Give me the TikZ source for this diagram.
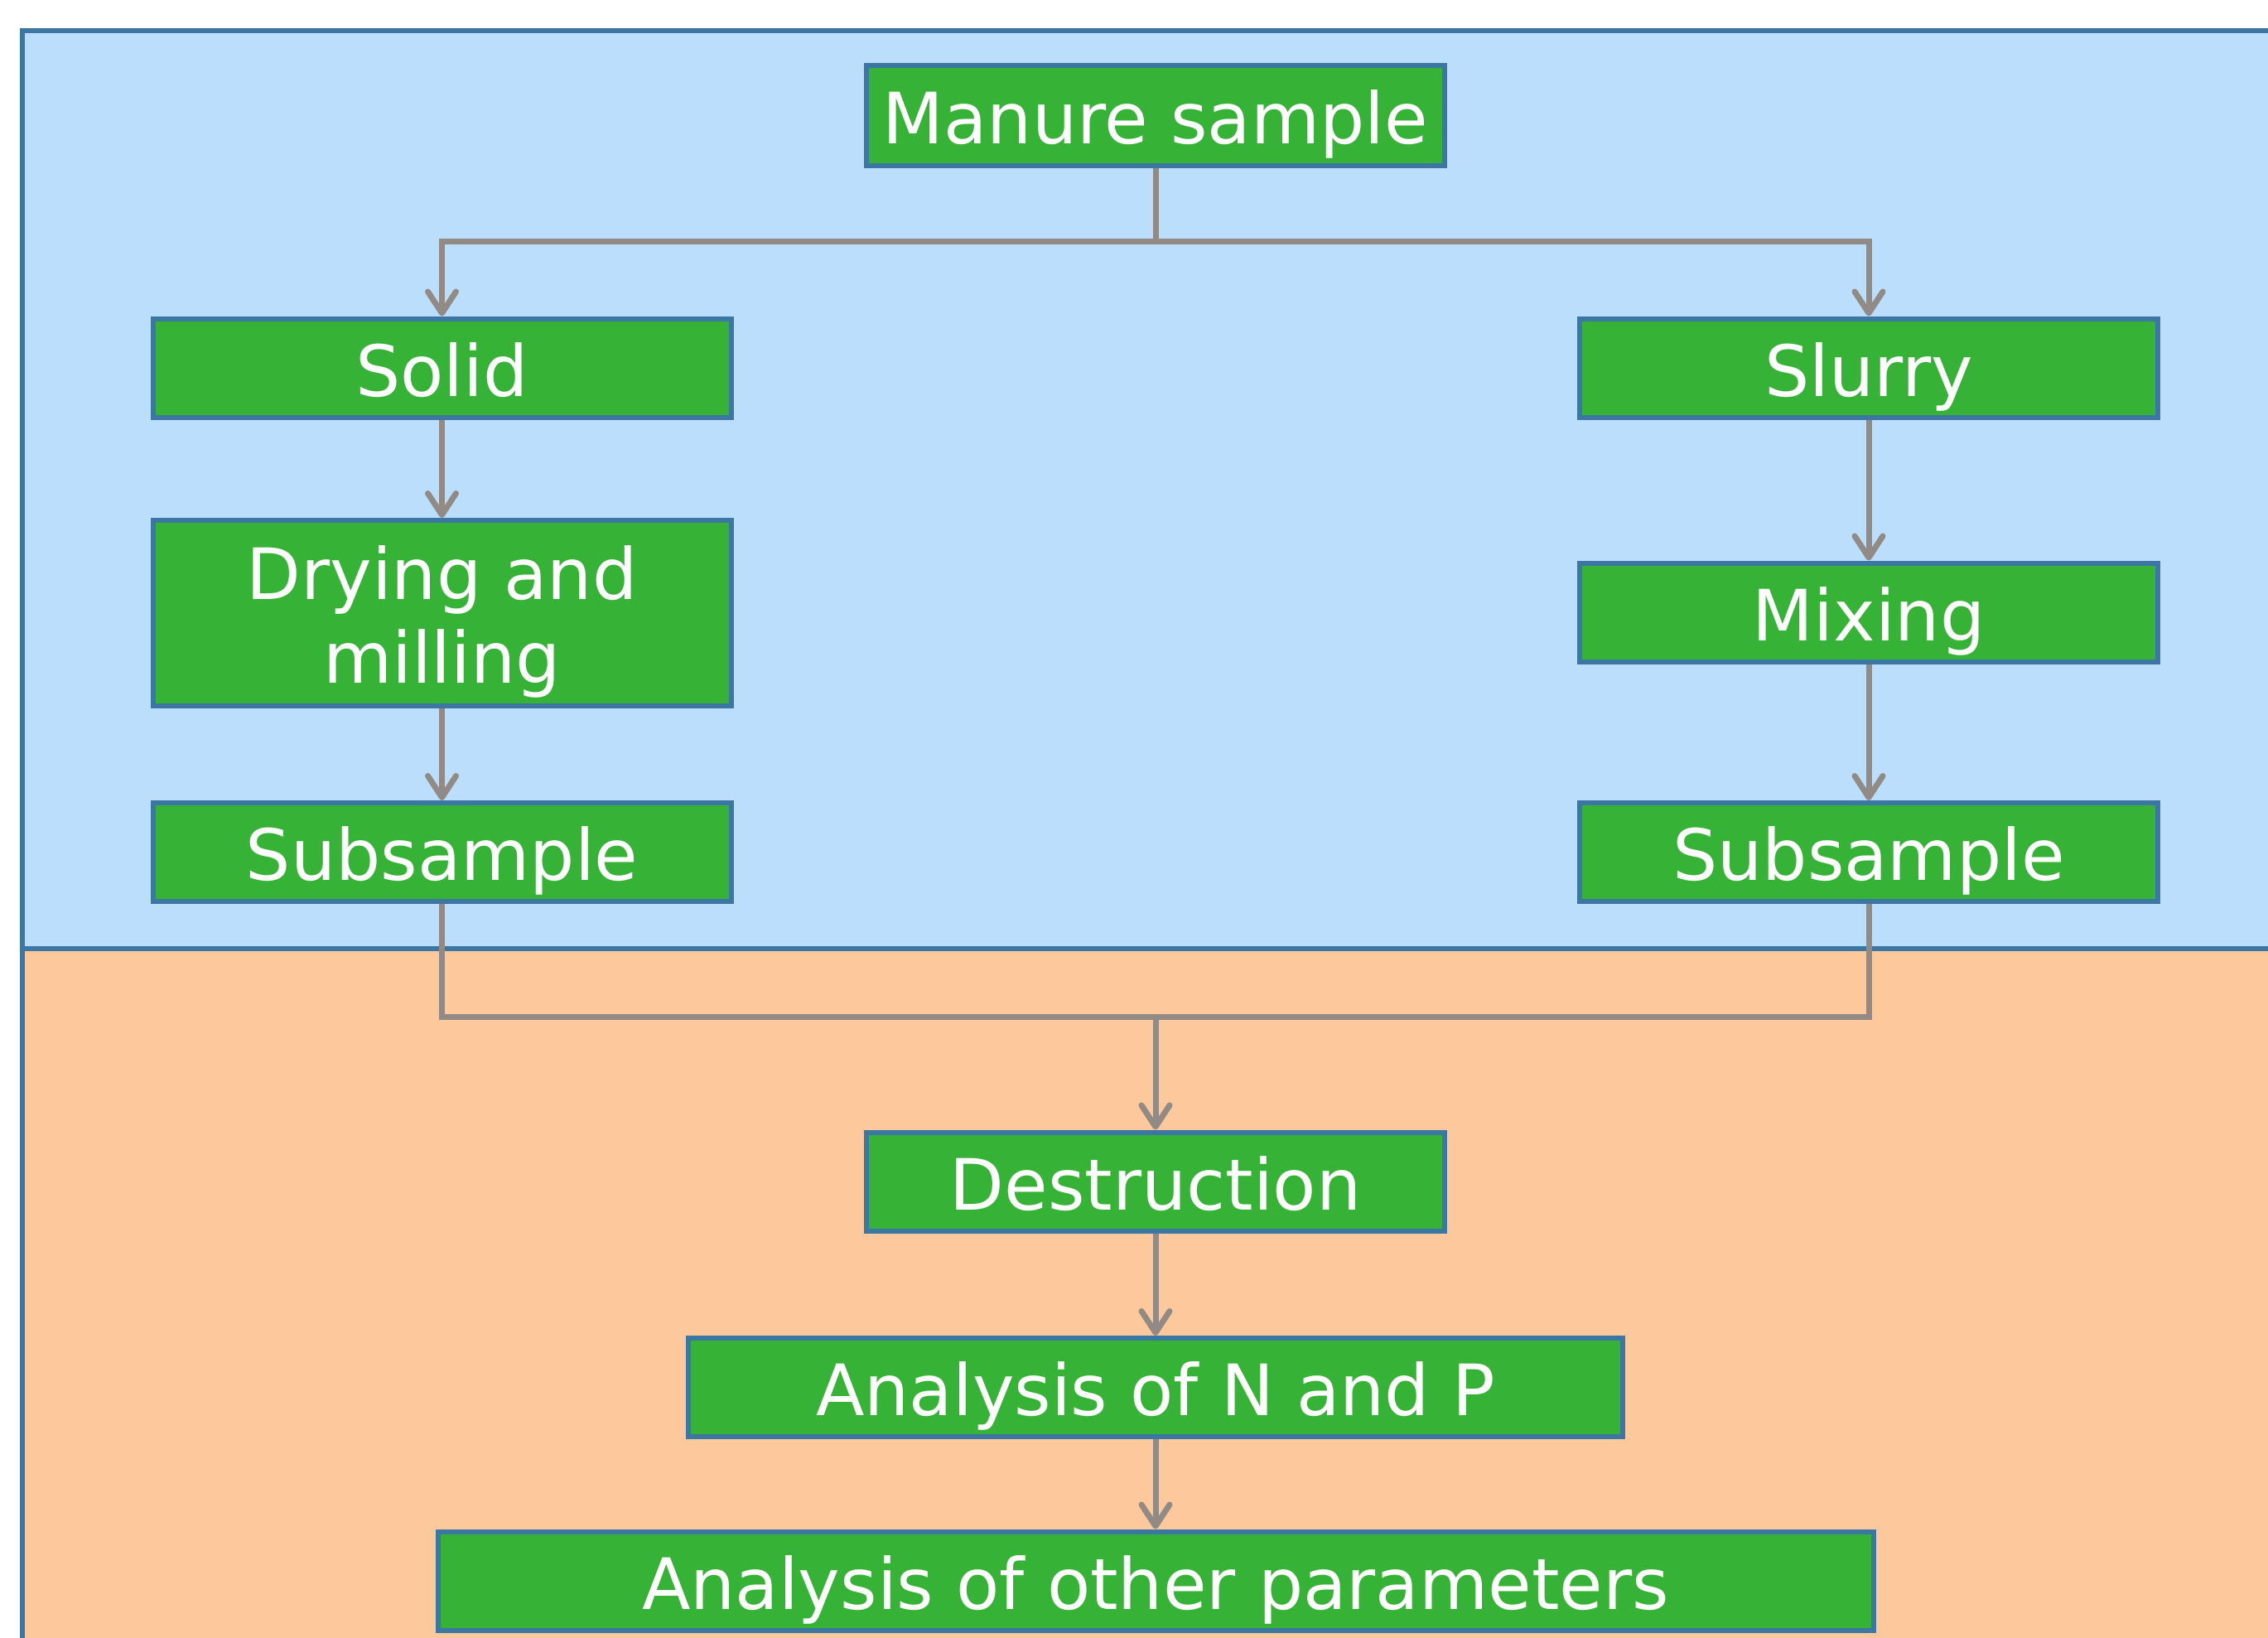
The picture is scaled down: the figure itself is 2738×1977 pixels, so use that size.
\documentclass[tikz,border=0pt]{standalone}
\usepackage{fontspec}
\setmainfont{DejaVu Sans}
\usetikzlibrary{arrows.meta}
\definecolor{bgblue}{HTML}{BBDEFD}
\definecolor{bgorange}{HTML}{FDC89B}
\definecolor{boxgreen}{HTML}{36B236}
\definecolor{frameblue}{HTML}{3C77A4}
\definecolor{linegray}{HTML}{918A85}
\begin{document}
\begin{tikzpicture}[x=1pt,y=-1pt,
  panel/.style={draw=frameblue, line width=6pt},
  box/.style={draw=frameblue, line width=6pt, fill=boxgreen, text=white,
    font=\fontsize{85.5}{101}\selectfont, minimum width=698pt, minimum height=119pt,
    inner sep=0pt, align=center, text height=68pt, text depth=0pt},
  conn/.style={draw=linegray, line width=7pt},
  arr/.style={conn, -{Straight Barb[length=26pt,width=34pt,round]}}]
\clip (0,0) rectangle (2738,1977);
\fill[white] (0,0) rectangle (2738,1977);
\draw[panel, fill=bgblue] (27,37) rectangle (2800,1145);
\draw[panel, fill=bgorange] (27,1145) rectangle (2800,2100);

\node[box, minimum height=121pt] (manure) at (1395,139.5) {Manure sample};
\node[box] (solid) at (533.5,444) {Solid};
\node[box, minimum height=224pt, text height=169pt] (drying) at (533.5,740) {Drying and\\milling};
\node[box] (subL) at (533.5,1028.5) {Subsample};
\node[box] (slurry) at (2256,444) {Slurry};
\node[box] (mixing) at (2256,739) {Mixing};
\node[box] (subR) at (2256,1028.5) {Subsample};
\node[box] (destr) at (1395,1426) {Destruction};
\node[box, minimum width=1128pt] (anNP) at (1395,1674.5) {Analysis of N and P};
\node[box, minimum width=1733pt] (anOther) at (1395,1908) {Analysis of other parameters};

\coordinate (jtop) at (1395,292);
\coordinate (jbot) at (1395,1227);

\draw[conn] (manure.south) -- (jtop);
\draw[arr] (jtop) -| (solid.north);
\draw[arr] (jtop) -| (slurry.north);
\draw[arr] (solid) -- (drying);
\draw[arr] (drying) -- (subL);
\draw[arr] (slurry) -- (mixing);
\draw[arr] (mixing) -- (subR);
\draw[conn] (subL.south) |- (jbot);
\draw[conn] (subR.south) |- (jbot);
\draw[arr] (jbot) -- (destr.north);
\draw[arr] (destr) -- (anNP);
\draw[arr] (anNP) -- (anOther);
\end{tikzpicture}
\end{document}
